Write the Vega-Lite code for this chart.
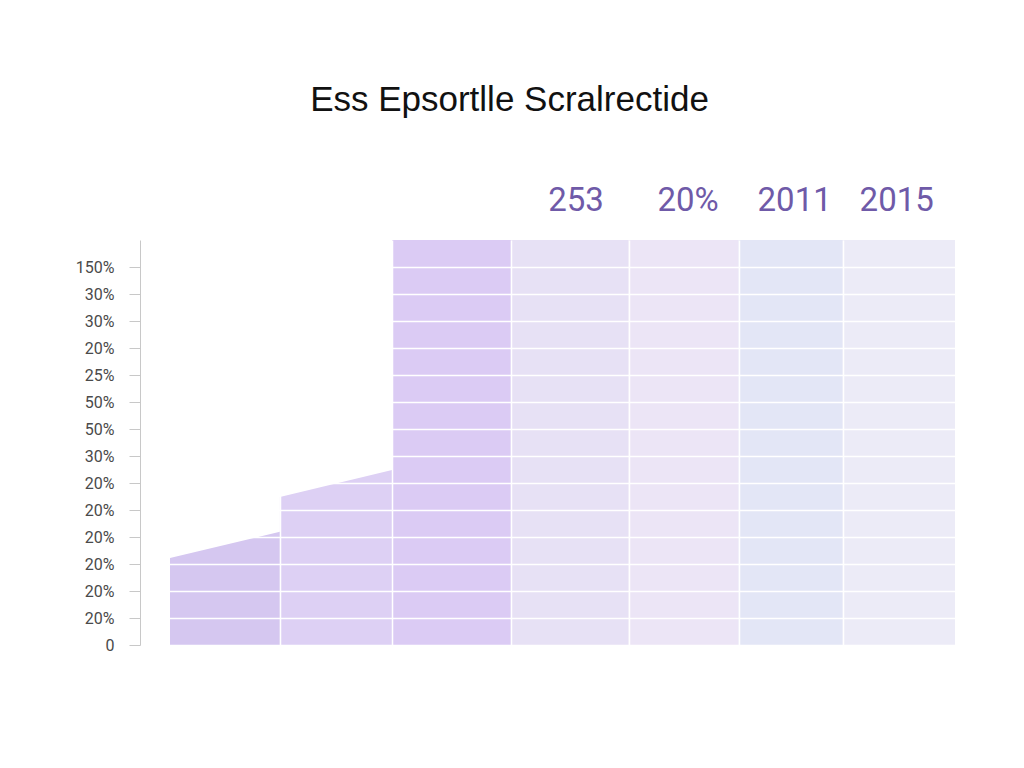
{
  "$schema": "https://vega.github.io/schema/vega-lite/v6.json",
  "width": 815,
  "height": 405,
  "autosize": {"type": "none"},
  "padding": {"left": 140, "top": 240, "right": 69, "bottom": 123},
  "background": "white",
  "title": {
    "text": "Ess Epsortlle Scralrectide",
    "font": "Liberation Sans",
    "fontSize": 35,
    "fontWeight": "normal",
    "color": "#111111",
    "anchor": "middle",
    "dx": -38,
    "offset": 67
  },
  "config": {"view": {"stroke": null}},
  "datasets": {
    "cols": [
      {"col": "c1", "x": 0, "y": 3.22},
      {"col": "c1", "x": 0.98, "y": 4.19},
      {"col": "c2", "x": 0.98, "y": 5.48},
      {"col": "c2", "x": 1.98, "y": 6.48},
      {"col": "c3", "x": 1.98, "y": 15},
      {"col": "c3", "x": 3.04, "y": 15},
      {"col": "c4", "x": 3.04, "y": 15},
      {"col": "c4", "x": 4.09, "y": 15},
      {"col": "c5", "x": 4.09, "y": 15},
      {"col": "c5", "x": 5.07, "y": 15},
      {"col": "c6", "x": 5.07, "y": 15},
      {"col": "c6", "x": 6.0, "y": 15},
      {"col": "c7", "x": 6.0, "y": 15},
      {"col": "c7", "x": 7.0, "y": 15}
    ],
    "labels": [
      {"label": "253", "x": 3.62, "y": 16.45},
      {"label": "20%", "x": 4.62, "y": 16.45},
      {"label": "2011", "x": 5.57, "y": 16.45},
      {"label": "2015", "x": 6.48, "y": 16.45}
    ]
  },
  "layer": [
    {
      "data": {"name": "cols"},
      "mark": {"type": "area", "interpolate": "linear", "opacity": 1},
      "encoding": {
        "x": {
          "field": "x",
          "type": "quantitative",
          "scale": {"domain": [-0.2676, 7], "nice": false, "zero": false},
          "axis": {
            "values": [0.98, 1.98, 3.04, 4.09, 5.07, 6.0],
            "tickCount": 30,
            "labels": false,
            "ticks": false,
            "domain": false,
            "title": null,
            "grid": true,
            "gridColor": "#ffffff",
            "gridWidth": 1.5,
            "gridOpacity": 1,
            "zindex": 1
          }
        },
        "y": {
          "field": "y",
          "type": "quantitative",
          "stack": null,
          "scale": {"domain": [0, 15], "nice": false},
          "axis": {
            "values": [0, 1, 2, 3, 4, 5, 6, 7, 8, 9, 10, 11, 12, 13, 14],
            "tickCount": 30,
            "labelExpr": "['0','20%','20%','20%','20%','20%','20%','30%','50%','50%','25%','20%','30%','30%','150%'][datum.value]",
            "labelOverlap": false,
            "title": null,
            "grid": true,
            "gridColor": "#ffffff",
            "gridWidth": 1.5,
            "gridOpacity": 1,
            "domainColor": "#c8c8c8",
            "tickColor": "#c8c8c8",
            "tickSize": 11,
            "labelPadding": 15,
            "labelFont": "Roboto",
            "labelFontSize": 16,
            "labelColor": "#4a4a4a",
            "zindex": 1
          }
        },
        "color": {
          "field": "col",
          "type": "nominal",
          "legend": null,
          "scale": {
            "domain": ["c1", "c2", "c3", "c4", "c5", "c6", "c7"],
            "range": ["#d5c7f0", "#ddd0f4", "#dbcbf4", "#e7e1f5", "#ece5f6", "#e3e6f6", "#ecebf7"]
          }
        }
      }
    },
    {
      "data": {"name": "labels"},
      "mark": {
        "type": "text",
        "font": "Roboto",
        "fontSize": 33,
        "color": "#6f5aa8",
        "baseline": "middle",
        "align": "center",
        "clip": false
      },
      "encoding": {
        "x": {"field": "x", "type": "quantitative"},
        "y": {"field": "y", "type": "quantitative"},
        "text": {"field": "label", "type": "nominal"}
      }
    }
  ]
}
